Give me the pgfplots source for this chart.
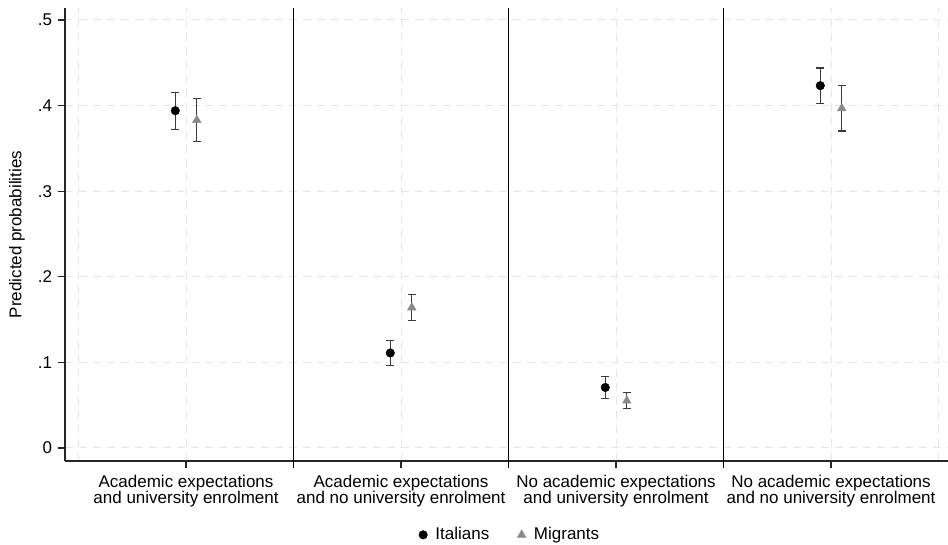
\documentclass[border=0pt]{standalone}
\usepackage{pgfplots}
\pgfplotsset{compat=1.18}
\usepackage{fontspec}
\setmainfont{Liberation Sans}
\definecolor{gridgray}{HTML}{E6E6E6}
\definecolor{migr}{HTML}{8A8A8A}
\definecolor{barc}{HTML}{3A3A3A}
\pgfplotstableread{
x y e
0.95 0.3940 0.0216
1.95 0.1110 0.0148
2.95 0.0707 0.0126
3.95 0.4233 0.0206
}\italians
\pgfplotstableread{
x y e
1.05 0.3830 0.0253
2.05 0.1640 0.0150
3.05 0.0552 0.0092
4.05 0.3968 0.0265
}\migrants
\begin{document}
\fontsize{17}{17}\selectfont
\begin{tikzpicture}
\useasboundingbox (-65pt,-84pt) rectangle (883pt,461pt);
\begin{axis}[
  name=ax,
  scale only axis,
  width=883pt, height=453pt,
  xmin=0.437, xmax=4.544,
  ymin=-0.0152, ymax=0.514,
  axis lines*=left,
  axis line style={line width=1.4pt, black!85},
  xtick={1,2,3,4},
  xticklabels={{Academic expectations\\and university enrolment},
               {Academic expectations\\and no university enrolment},
               {No academic expectations\\and university enrolment},
               {No academic expectations\\and no university enrolment}},
  xticklabel style={align=center, font=\fontsize{17}{16.3}\selectfont, yshift=-1pt},
  ytick={0,0.1,0.2,0.3,0.4,0.5},
  yticklabels={0,.1,.2,.3,.4,.5},
  yticklabel style={font=\fontsize{17}{17}\selectfont},
  minor xtick={0.5,4.5},
  minor tick length=0pt,
  tick align=outside,
  major tick length=7pt,
  tick style={black!85, line width=1.1pt},
  xmajorgrids, ymajorgrids, xminorgrids,
  major grid style={gridgray, line width=1pt, dash pattern=on 8pt off 6pt},
  minor grid style={gridgray, line width=1pt, dash pattern=on 8pt off 6pt},
  extra x ticks={1.5,2.5,3.5},
  extra x tick labels={},
  extra x tick style={grid=major, major grid style={solid, black, line width=1.8pt}, tick style={black, line width=1.8pt}},
  ylabel={Predicted probabilities},
  ylabel style={at={(axis description cs:-0.0544,0.5)}, anchor=center, font=\fontsize{17}{17}\selectfont},
  legend style={at={(axis description cs:0.504,-0.163)}, anchor=center, draw=none, fill=none,
    legend columns=2, font=\fontsize{17}{17}\selectfont,
    /tikz/every odd column/.append style={column sep=6pt},
    /tikz/every even column/.append style={column sep=26pt}},
  clip=false,
]
\addplot[only marks, mark=*, mark size=4.3pt, black,
  error bars/.cd, y dir=both, y explicit,
  error bar style={line width=1.1pt, barc},
  error mark options={rotate=90, mark size=3.8pt, line width=1.1pt, barc}]
  table[x=x, y=y, y error=e] {\italians};
\addlegendentry{Italians}
\addplot[only marks, mark=triangle*, mark size=5pt, migr,
  error bars/.cd, y dir=both, y explicit,
  error bar style={line width=1.1pt, barc},
  error mark options={rotate=90, mark size=3.8pt, line width=1.1pt, barc}]
  table[x=x, y=y, y error=e] {\migrants};
\addlegendentry{Migrants}
\end{axis}
\end{tikzpicture}
\end{document}
